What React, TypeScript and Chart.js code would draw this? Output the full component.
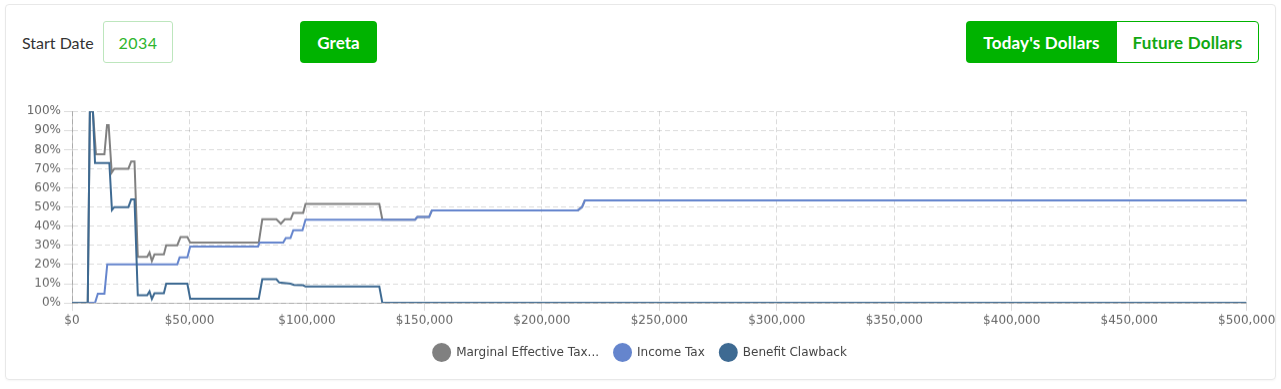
import React, { useEffect, useRef } from 'react';
import { Chart, registerables } from 'chart.js';

Chart.register(...registerables);

// [income ($), rate (%)]
const marginalPoints: [number, number][] = [
  [0, 0], [6700, 0], [7600, 100], [8900, 100], [10200, 77.6], [13800, 77.6],
  [14900, 92.8], [15600, 92.8], [16900, 68], [18000, 70], [24000, 70],
  [25200, 73.8], [26600, 73.8], [28000, 24], [32000, 24], [33000, 26.3],
  [34000, 21.9], [35100, 25.3], [39100, 25.3], [40100, 30.1], [44800, 30.1],
  [46200, 34.3], [49100, 34.3], [50300, 31.5], [79500, 31.5], [81000, 43.6],
  [87000, 43.6], [88900, 41.3], [90600, 43.6], [93100, 43.6], [94200, 47],
  [98400, 47], [99400, 51.7], [130800, 51.7], [132100, 43.4], [146000, 43.4],
  [147000, 44.8], [152000, 44.8], [153200, 48.3], [215300, 48.3],
  [217100, 50], [218300, 53.5], [500000, 53.5],
];

const incomeTaxPoints: [number, number][] = [
  [0, 0], [9800, 0], [11000, 4.8], [13800, 4.8], [15000, 20.1], [44800, 20.1],
  [45800, 23.7], [49100, 23.7], [50300, 29.4], [79200, 29.4], [79900, 31.5],
  [89900, 31.5], [91000, 33.9], [93000, 33.9], [94200, 37.9], [98100, 37.9],
  [99400, 43.4], [146000, 43.4], [147000, 44.8], [152000, 44.8],
  [153200, 48.3], [215300, 48.3], [217100, 50], [218300, 53.5], [500000, 53.5],
];

const clawbackPoints: [number, number][] = [
  [0, 0], [6700, 0], [7600, 100], [8900, 100], [9800, 73], [15900, 73],
  [17000, 48.5], [18000, 50], [24000, 50], [25200, 54], [26600, 54],
  [28000, 4], [32000, 4], [33000, 6], [34000, 2], [35100, 5], [39100, 5],
  [40100, 10], [49100, 10], [50300, 2.2], [79500, 2.2], [81000, 12.3],
  [87000, 12.3], [88200, 10.6], [93000, 10], [94500, 9.4], [98400, 9.2],
  [99400, 8.5], [130800, 8.5], [132100, 0], [500000, 0],
];

const seriesLabels = ['Marginal Effective Tax...', 'Income Tax', 'Benefit Clawback'];
const seriesColors = ['#808080', '#6585cd', '#3e6a92'];

const xMin = 0;
const xMax = 500000;
const xStep = 50000;
const yMin = 0;
const yMax = 100;
const yStep = 10;

const GREEN = '#00b300';

export default function App() {
  const ref = useRef<HTMLCanvasElement>(null);

  useEffect(() => {
    if (!ref.current) return;
    const all = [marginalPoints, incomeTaxPoints, clawbackPoints];
    const chart = new Chart(ref.current, {
      type: 'line',
      data: {
        datasets: all.map((pts, i) => ({
          label: seriesLabels[i],
          data: pts.map(([x, y]) => ({ x, y })),
          borderColor: seriesColors[i],
          backgroundColor: seriesColors[i],
          borderWidth: 2,
          pointRadius: 0,
          pointHoverRadius: 0,
          fill: false,
          tension: 0,
          order: 3 - i,
        })),
      },
      options: {
        animation: false,
        responsive: true,
        maintainAspectRatio: false,
        layout: { padding: { left: 17.7, right: 22, top: 0, bottom: 0 } },
        plugins: {
          tooltip: { enabled: false },
          legend: {
            position: 'bottom',
            labels: {
              usePointStyle: true,
              pointStyle: 'circle',
              pointStyleWidth: 17,
              padding: 15,
              color: '#444',
              font: { family: 'DejaVu Sans', size: 12 },
              sort: (a: any, b: any) => a.datasetIndex - b.datasetIndex,
            },
          },
        },
        scales: {
          x: {
            type: 'linear',
            min: xMin,
            max: xMax,
            ticks: {
              stepSize: xStep,
              maxRotation: 0,
              autoSkip: false,
              color: '#666',
              font: { family: 'DejaVu Sans', size: 12 },
              callback: (v: any) => '$' + Number(v).toLocaleString('en-US'),
            },
            grid: { color: 'rgba(0,0,0,0.14)' },
            border: { color: 'rgba(0,0,0,0.22)', dash: [5, 3] },
          },
          y: {
            min: yMin,
            max: yMax,
            ticks: {
              stepSize: yStep,
              color: '#666',
              font: { family: 'DejaVu Sans', size: 12 },
              callback: (v: any) => v + '%',
            },
            grid: { color: 'rgba(0,0,0,0.14)' },
            border: { color: 'rgba(0,0,0,0.22)', dash: [5, 3] },
          },
        },
      },
    } as any);
    return () => chart.destroy();
  }, []);

  const btnBase: React.CSSProperties = {
    position: 'absolute',
    top: 21,
    height: 42,
    boxSizing: 'border-box',
    display: 'flex',
    alignItems: 'center',
    justifyContent: 'center',
    fontWeight: 700,
    fontSize: 17,
  };

  return (
    <div
      style={{
        position: 'absolute',
        left: 0,
        top: 0,
        width: 1281,
        height: 389,
        background: '#fff',
        fontFamily: 'Lato, "Open Sans", sans-serif',
        overflow: 'hidden',
      }}
    >
      <div
        style={{
          position: 'absolute',
          left: 5,
          top: 4,
          width: 1271,
          height: 376,
          border: '1px solid #e8e8e8',
          borderRadius: 4,
          boxSizing: 'border-box',
          boxShadow: '0 1px 2px rgba(0,0,0,0.04)',
        }}
      />
      <div
        style={{
          position: 'absolute',
          left: 22,
          top: 21,
          height: 42,
          display: 'flex',
          alignItems: 'center',
          fontSize: 16,
          color: '#333',
        }}
      >
        Start Date
      </div>
      <div
        style={{
          ...btnBase,
          left: 103,
          width: 70,
          border: '1px solid #bde6bd',
          borderRadius: 3,
          color: '#2db52d',
          fontWeight: 400,
          fontSize: 16,
          letterSpacing: 0.5,
        }}
      >
        2034
      </div>
      <div
        style={{
          ...btnBase,
          left: 300,
          width: 77,
          background: GREEN,
          borderRadius: 4,
          color: '#fff',
        }}
      >
        Greta
      </div>
      <div
        style={{
          ...btnBase,
          left: 966,
          width: 151,
          background: GREEN,
          borderRadius: '4px 0 0 4px',
          color: '#fff',
          letterSpacing: 0.2,
        }}
      >
        Today's Dollars
      </div>
      <div
        style={{
          ...btnBase,
          left: 1116,
          width: 143,
          border: `1px solid ${GREEN}`,
          borderRadius: '0 4px 4px 0',
          color: '#12a812',
          letterSpacing: 0.2,
        }}
      >
        Future Dollars
      </div>
      <div style={{ position: 'absolute', left: 6, top: 101, width: 1272.3, height: 266.5 }}>
        <canvas ref={ref} />
      </div>
    </div>
  );
}
